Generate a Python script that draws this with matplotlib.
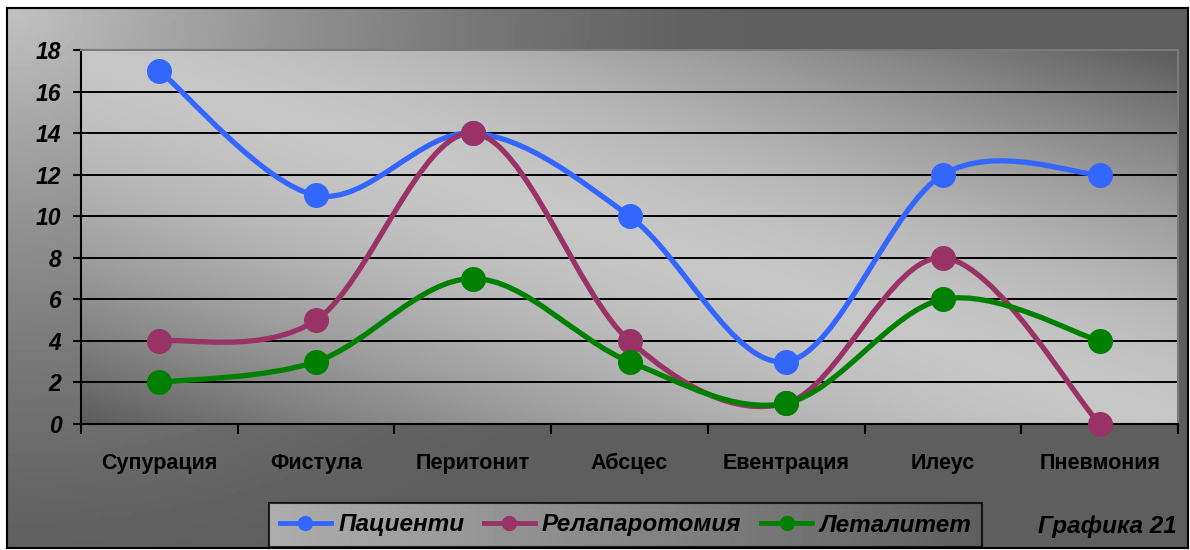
import numpy as np
import matplotlib.pyplot as plt
from matplotlib.path import Path
from matplotlib.patches import PathPatch
from matplotlib.lines import Line2D

categories = ['Супурация', 'Фистула', 'Перитонит', 'Абсцес', 'Евентрация', 'Илеус', 'Пневмония']
pacienti = [17, 11, 14, 10, 3, 12, 12]
relaparotomia = [4, 5, 14, 4, 1, 8, 0]
letalitet = [2, 3, 7, 3, 1, 6, 4]
series_names = ['Пациенти', 'Релапаротомия', 'Леталитет']
colors = ['#3366FF', '#993366', '#008000']
yticks = list(range(0, 19, 2))

plt.rcParams['font.family'] = ['Liberation Sans', 'DejaVu Sans']

W, H = 1190, 550
fig = plt.figure(figsize=(W / 100, H / 100), dpi=100, facecolor='white')


def px(x0, y0, x1, y1):
    # pixel box (top-left origin) -> figure fraction rect
    return [x0 / W, 1 - y1 / H, (x1 - x0) / W, (y1 - y0) / H]


# outer chart area: radial shading from the top-left corner
bg = fig.add_axes(px(7, 8, 1188, 548), zorder=-10)
gx, gy = np.meshgrid(np.linspace(0, 1181, 300), np.linspace(0, 540, 150))
r = np.hypot(gx, gy * 1.3) / 750
shade = 0.37 + (0.76 - 0.37) * np.clip(1 - r, 0, 1) ** 1.4
bg.imshow(shade, cmap='gray', vmin=0, vmax=1, aspect='auto', extent=[0, 1, 0, 1], origin='upper')
bg.set_xlim(0, 1)
bg.set_ylim(0, 1)
bg.set_xticks([])
bg.set_yticks([])
for s in bg.spines.values():
    s.set_color('black')
    s.set_linewidth(1.5)

# plot area with a diagonal light band
ax = fig.add_axes(px(81, 50, 1178, 424))
u, v = np.meshgrid(np.linspace(0, 1, 300), np.linspace(0, 1, 150))
d = np.abs(u - v)
plot_shade = 0.78 - (0.78 - 0.36) * d ** 1.6
ax.imshow(plot_shade, cmap='gray', vmin=0, vmax=1, aspect='auto',
          extent=[-0.5, 6.5, 0, 18], origin='upper', zorder=0)
ax.set_xlim(-0.5, 6.5)
ax.set_ylim(0, 18)
ax.set_axisbelow(True)

for yv in yticks[1:-1]:
    ax.axhline(yv, color='black', lw=1.4, zorder=1)

for side in ['top', 'right']:
    ax.spines[side].set_color('#7a7a7a')
for s in ax.spines.values():
    s.set_linewidth(1.5)

ax.set_yticks(yticks)
ax.set_yticklabels([str(t) for t in yticks], fontsize=16.5, fontweight='bold', fontstyle='italic')
ax.tick_params(axis='y', direction='out', length=6, width=1.5, pad=8)

x = np.arange(len(categories))
ax.set_xticks(x)
ax.set_xticklabels(categories, fontsize=15.5, fontweight='bold')
ax.tick_params(axis='x', which='major', length=0, pad=21)
ax.set_xticks(np.arange(-0.5, 7, 1), minor=True)
ax.tick_params(axis='x', which='minor', direction='out', length=7, width=1.5)


def smooth_path(xs, ys):
    # cubic Bezier through every point, tangents from neighbouring points
    pts = np.column_stack([xs, ys]).astype(float)
    n = len(pts)
    verts = [pts[0]]
    codes = [Path.MOVETO]
    for i in range(n - 1):
        p0 = pts[i - 1] if i > 0 else pts[i]
        p1 = pts[i]
        p2 = pts[i + 1]
        p3 = pts[i + 2] if i + 2 < n else pts[i + 1]
        verts += [p1 + (p2 - p0) / 6, p2 - (p3 - p1) / 6, p2]
        codes += [Path.CURVE4] * 3
    return Path(verts, codes)


for vals, col in zip([pacienti, relaparotomia, letalitet], colors):
    patch = PathPatch(smooth_path(x, vals), facecolor='none', edgecolor=col,
                      lw=3.8, capstyle='round', joinstyle='round', zorder=3, clip_on=False)
    ax.add_patch(patch)
    ax.plot(x, vals, 'o', color=col, ms=17, zorder=4, clip_on=False)

handles = [Line2D([], [], color=c, lw=3.5, marker='o', ms=10) for c in colors]
leg = fig.legend(handles, series_names, loc='center', ncol=3,
                 bbox_to_anchor=((258 + 993) / 2 / W, 1 - 525 / H),
                 prop={'size': 17.5, 'weight': 'bold', 'style': 'italic'},
                 frameon=True, fancybox=False, handlelength=2.1, handletextpad=0.3,
                 columnspacing=0.8, borderpad=0.45, borderaxespad=0)
leg.get_frame().set_edgecolor('black')
leg.get_frame().set_linewidth(1.5)
leg.get_frame().set_facecolor('none')

fig.canvas.draw()
bb = leg.get_window_extent().transformed(fig.transFigure.inverted())
lg = fig.add_axes([bb.x0, bb.y0, bb.width, bb.height], zorder=-5)
lx = np.linspace(0, 1, 200)[None, :]
lg.imshow(0.68 - 0.31 * lx, cmap='gray', vmin=0, vmax=1, aspect='auto', extent=[0, 1, 0, 1])
lg.axis('off')

fig.text(1177 / W, 1 - 527 / H, 'Графика 21', ha='right', va='center',
         fontsize=17.5, fontweight='bold', fontstyle='italic')

fig.savefig('out.png', dpi=100, facecolor='white')
